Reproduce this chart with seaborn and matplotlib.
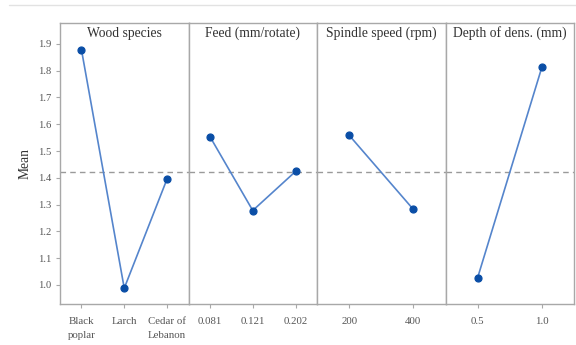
import matplotlib
matplotlib.use("Agg")
import matplotlib.pyplot as plt
from matplotlib.lines import Line2D
import seaborn as sns
import pandas as pd

# Main effects: factor levels and the mean response at each level
wood_levels = ["Black\npoplar", "Larch", "Cedar of\nLebanon"]
wood_means = [1.879, 0.988, 1.396]

feed_levels = ["0.081", "0.121", "0.202"]
feed_means = [1.554, 1.278, 1.424]

spindle_levels = ["200", "400"]
spindle_means = [1.559, 1.282]

depth_levels = ["0.5", "1.0"]
depth_means = [1.027, 1.813]

factor_titles = ["Wood species", "Feed (mm/rotate)", "Spindle speed (rpm)", "Depth of dens. (mm)"]
grand_mean = 1.42
y_ticks = [1.0, 1.1, 1.2, 1.3, 1.4, 1.5, 1.6, 1.7, 1.8, 1.9]

panels = [
    (wood_levels, wood_means),
    (feed_levels, feed_means),
    (spindle_levels, spindle_means),
    (depth_levels, depth_means),
]

sns.set_theme(style="white")
plt.rcParams["font.family"] = ["Liberation Serif", "DejaVu Serif"]

LINE_C = "#5585cc"
MARK_C = "#0a4ea6"
FRAME_C = "#a8a8a8"
TEXT_C = "#333333"
TICK_C = "#555555"

fig, axes = plt.subplots(1, 4, sharey=True, figsize=(5.76, 3.45), dpi=100)
fig.subplots_adjust(left=60 / 576, right=574 / 576, top=1 - 23 / 345,
                    bottom=1 - 304 / 345, wspace=0)

for ax, title, (levels, means) in zip(axes, factor_titles, panels):
    df = pd.DataFrame({"level": levels, "mean": means})
    sns.pointplot(data=df, x="level", y="mean", order=levels, ax=ax,
                  color=LINE_C, markers="o", markersize=5, linewidth=1.2,
                  errorbar=None)
    for ln in ax.lines:
        ln.set_markerfacecolor(MARK_C)
        ln.set_markeredgecolor(MARK_C)
    ax.axhline(grand_mean, color="#9a9a9a", lw=1.0, ls=(0, (4, 3)), zorder=0)
    ax.set_xlim(-0.5, len(levels) - 0.5)
    ax.set_xlabel("")
    ax.set_ylabel("")
    ax.text(0.5, 1 - 10.5 / 281, title, transform=ax.transAxes, ha="center",
            va="center", fontsize=9.8, color=TEXT_C)
    for s in ax.spines.values():
        s.set_color(FRAME_C)
        s.set_linewidth(1.0)
    ax.tick_params(axis="x", bottom=True, length=3, width=0.8, color=FRAME_C,
                   labelsize=7.8, labelcolor=TICK_C, pad=6)
    for lbl in ax.get_xticklabels():
        lbl.set_linespacing(1.75)
    ax.tick_params(axis="y", left=False, labelleft=False)

axes[0].set_ylim(0.929, 1.978)
axes[0].set_yticks(y_ticks)
axes[0].set_yticklabels([f"{v:.1f}" for v in y_ticks])
axes[0].tick_params(axis="y", left=True, labelleft=True, length=3, width=0.8,
                    color=FRAME_C, labelsize=7.6, labelcolor=TICK_C, pad=3)
axes[0].set_ylabel("Mean", fontsize=9.8, color=TEXT_C, labelpad=5)

# light rule along the top edge of the figure
fig.add_artist(Line2D([9 / 576, 1], [1 - 4.5 / 345] * 2, transform=fig.transFigure,
                      color="#e2e2e2", lw=1.0))

fig.savefig("out.png", dpi=100)
